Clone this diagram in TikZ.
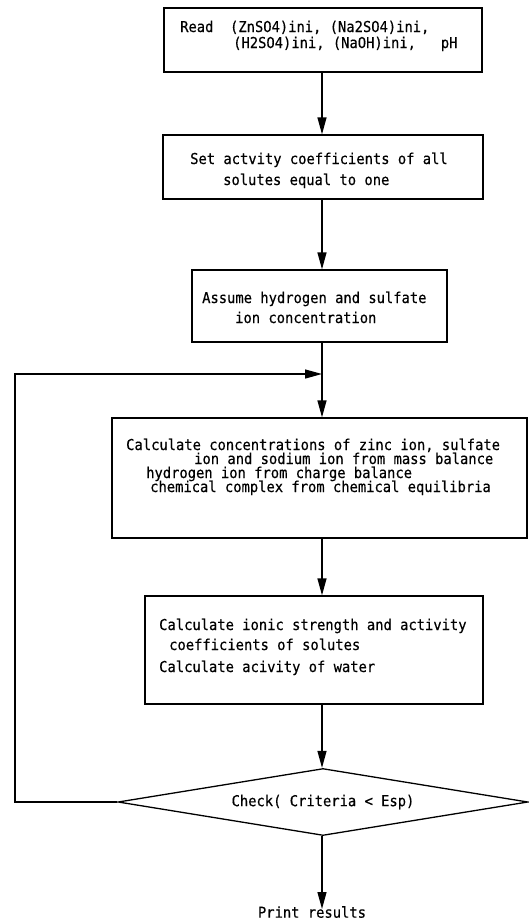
\documentclass[tikz,border=0pt]{standalone}
\usepackage{fontspec}
\setmainfont{DejaVu Sans Mono}[FakeStretch=0.92,FakeBold=0.4]
\usetikzlibrary{arrows.meta,shapes.geometric}
\begin{document}
\begin{tikzpicture}[x=1pt,y=-1pt,
  box/.style={draw,line width=1.3pt,rectangle,inner sep=0pt},
  txt/.style={anchor=base west,inner sep=0pt,font=\fontsize{15}{17}\selectfont},
  arr/.style={line width=1.3pt,-{Triangle[length=17pt,width=9pt]}},
  decision/.style={draw,diamond,line width=1.3pt,inner sep=0pt,aspect=6,
    minimum width=410pt,minimum height=67pt,font=\fontsize{15}{17}\selectfont}]
\useasboundingbox (0,0) rectangle (529,922);
\coordinate (axis) at (322,0);
% boxes
\node[box,minimum width=318pt,minimum height=64pt] (read) at (323,40) {};
\node[box,minimum width=320pt,minimum height=64pt] (set) at (323,167) {};
\node[box,minimum width=255pt,minimum height=72pt] (assume) at (319.5,306) {};
\node[box,minimum width=415pt,minimum height=120pt] (calc) at (319.5,478) {};
\node[box,minimum width=338pt,minimum height=108pt] (ionic) at (314,650) {};
\node[decision] (check) at (323,802) {Check( Criteria < Esp)};
\node[inner sep=0pt,font=\fontsize{15}{17}\selectfont,anchor=north] (print) at (312,906) {Print results};
% texts
\node[txt] (t1a) at (180,32) {Read~~(ZnSO4)ini,~(Na2SO4)ini,};
\node[txt] (t1b) at (233,48) {(H2SO4)ini,~(NaOH)ini,~~~pH};
\node[txt] (t2a) at (190,164) {Set actvity coefficients of all};
\node[txt] (t2b) at (223,185) {solutes equal to one};
\node[txt] (t3a) at (202,303) {Assume hydrogen and sulfate};
\node[txt] (t3b) at (235,323) {ion concentration};
\node[txt] (t4a) at (126,450) {Calculate concentrations of zinc ion, sulfate};
\node[txt] (t4b) at (194,464) {ion and sodium ion from mass balance};
\node[txt] (t4c) at (146,478) {hydrogen ion from charge balance};
\node[txt] (t4d) at (150,492) {chemical complex from chemical equilibria};
\node[txt] (t5a) at (159,630) {Calculate ionic strength and activity};
\node[txt] (t5b) at (169,650) {coefficients of solutes};
\node[txt] (t5c) at (159,672) {Calculate acivity of water};
% connectors
\coordinate (join) at (322,374);
\coordinate (lc1) at (15,802);
\coordinate (lc2) at (15,374);
\draw[arr] (read.south -| axis) -- (set.north -| axis);
\draw[arr] (set.south -| axis) -- (assume.north -| axis);
\draw[arr] (assume.south -| axis) -- (calc.north -| axis);
\draw[arr] (calc.south -| axis) -- (ionic.north -| axis);
\draw[arr] (ionic.south -| axis) -- (check.north -| axis);
\draw[arr] (check.south -| axis) -- ([yshift=-3pt]print.north -| axis);
\draw[arr] (check.west) -- (lc1) -- (lc2) -- (join);
\end{tikzpicture}
\end{document}
